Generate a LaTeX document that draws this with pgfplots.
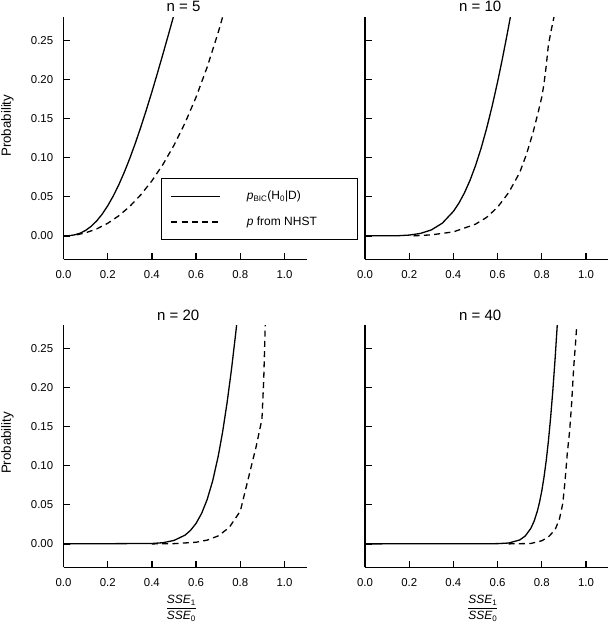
\documentclass[border=0pt]{standalone}
\usepackage{pgfplots}
\pgfplotsset{compat=1.18}
\usepackage{fontspec}
\setmainfont{Liberation Sans}

\pgfplotsset{
  myaxis/.style={
    scale only axis, width=243.1pt, height=242pt,
    xmin=0, xmax=1.1, ymin=-0.03, ymax=0.28,
    axis x line*=bottom, axis y line*=left,
    axis line style={line width=1.5pt, -},
    tick align=inside, major tick length=6.5pt,
    every tick/.style={black, line width=1.3pt},
    xtick={0,0.2,0.4,0.6,0.8,1.0},
    ytick={0,0.05,0.1,0.15,0.2,0.25},
    /pgf/number format/assume math mode=true,
    xticklabel style={/pgf/number format/.cd, fixed, fixed zerofill, precision=1, /tikz/.cd,
      inner sep=0pt, anchor=north, yshift=-11pt, font=\fontsize{11.4}{13}\selectfont},
    yticklabel style={/pgf/number format/.cd, fixed, fixed zerofill, precision=2, /tikz/.cd,
      inner sep=0pt, anchor=east, xshift=-10.2pt, font=\fontsize{11.4}{13}\selectfont},
    ylabel style={at={(axis description cs:-0.2304,0.552)}, anchor=center, font=\fontsize{13.3}{15}\selectfont},
    title style={anchor=base, font=\fontsize{15}{18}\selectfont},
    xlabel style={at={(axis description cs:0.485,0)}, anchor=center, yshift=-41pt, font=\fontsize{12}{14}\selectfont},
    clip=true,
  },
  sol/.style={black, line width=1.3pt, line join=round},
  das/.style={black, line width=1.3pt, line join=round, dash pattern=on 6pt off 4.3pt},
}

\newcommand{\ssefrac}{$\displaystyle\frac{\mbox{\textit{SSE}\textsubscript{1}}}{\mbox{\textit{SSE}\textsubscript{0}}}$}

\begin{document}
\begin{tikzpicture}
\useasboundingbox (0pt,0pt) rectangle (609pt,631pt);

% n = 5
\begin{axis}[myaxis, at={(63.5pt,371.7pt)}, anchor=south west,
  title={n = 5}, title style={at={(axis description cs:0.494,1)}, yshift=0.2pt},
  ylabel={Probability},
  legend style={at={(axis description cs:0.401,0.337)}, anchor=north west,
    draw=black, line width=1.2pt, fill=white,
    inner xsep=9pt, inner ysep=5pt, row sep=0pt,
    font=\fontsize{12}{14}\selectfont,
    nodes={inner xsep=0pt, inner ysep=0pt, minimum height=25.7pt},
    /tikz/every odd column/.append style={column sep=26pt}},
  legend cell align=left,
  legend image code/.code={\draw[#1] (0pt,0pt) -- (49pt,0pt);},
]
\addplot[sol] coordinates {(0,0) (0.025,0.0002) (0.05,0.0013) (0.075,0.0034) (0.1,0.0070) (0.125,0.0122) (0.15,0.0191) (0.175,0.0278) (0.2,0.0385) (0.225,0.0510) (0.25,0.0653) (0.275,0.0815) (0.3,0.0993) (0.325,0.1187) (0.35,0.1395) (0.375,0.1615) (0.4,0.1845) (0.425,0.2084) (0.45,0.2330) (0.475,0.2580) (0.5,0.2834)};
\addlegendentry{\makebox[102pt][l]{\textit{p}\textsubscript{BIC}(H\textsubscript{0}|D)}}
\addplot[das] coordinates {(0.06,0.0014) (0.1,0.0039) (0.15,0.0089) (0.2,0.0161) (0.25,0.0257) (0.3,0.0378) (0.35,0.0527) (0.4,0.0705) (0.45,0.0915) (0.5,0.1161) (0.55,0.1447) (0.6,0.1778) (0.65,0.2161) (0.7,0.2606) (0.72,0.2804)};
\addlegendentry{\makebox[102pt][l]{\textit{p} from NHST}}
\end{axis}

% n = 10
\begin{axis}[myaxis, at={(365pt,371.7pt)}, anchor=south west,
  title={n = 10}, title style={at={(axis description cs:0.474,1)}, yshift=0.2pt},
  yticklabels={},
]
\addplot[sol] coordinates {(0,0) (0.15,0.0002) (0.2,0.0010) (0.25,0.0031) (0.3,0.0076) (0.35,0.0163) (0.4,0.0314) (0.425,0.0420) (0.45,0.0551) (0.475,0.0710) (0.5,0.0899) (0.525,0.1120) (0.55,0.1373) (0.575,0.1658) (0.6,0.1974) (0.62,0.2246) (0.64,0.2535) (0.66,0.2837)};
\addplot[das] coordinates {(0.22,0) (0.3,0.0013) (0.4,0.0051) (0.5,0.0150) (0.55,0.0236) (0.6,0.0368) (0.65,0.0554) (0.7,0.0811) (0.73,0.104) (0.76,0.132) (0.785,0.160) (0.80,0.178) (0.81,0.195) (0.82,0.218) (0.83,0.245) (0.843,0.264) (0.857,0.283)};
\end{axis}

% n = 20
\begin{axis}[myaxis, at={(63.5pt,63.7pt)}, anchor=south west,
  title={n = 20}, title style={at={(axis description cs:0.472,1)}, yshift=-1.5pt},
  ylabel={Probability}, ylabel style={at={(axis description cs:-0.2304,0.514)}},
  xlabel={\ssefrac},
]
\addplot[sol] coordinates {(0,0) (0.4,0.0005) (0.45,0.0015) (0.5,0.0044) (0.55,0.0112) (0.575,0.0174) (0.6,0.0263) (0.625,0.0391) (0.65,0.0568) (0.675,0.0807) (0.7,0.1122) (0.72,0.1434) (0.74,0.1805) (0.76,0.2233) (0.78,0.2716) (0.785,0.2844)};
\addplot[das] coordinates {(0.40,0) (0.5,0.0003) (0.6,0.0021) (0.65,0.0048) (0.7,0.0102) (0.75,0.021) (0.8,0.042) (0.872,0.125) (0.898,0.160) (0.906,0.210) (0.913,0.283)};
\end{axis}

% n = 40
\begin{axis}[myaxis, at={(365pt,63.7pt)}, anchor=south west,
  title={n = 40}, title style={at={(axis description cs:0.474,1)}, yshift=-1.5pt},
  yticklabels={},
  xlabel={\ssefrac},
]
\addplot[sol] coordinates {(0,0) (0.6,0.0003) (0.65,0.0011) (0.7,0.0050) (0.725,0.0101) (0.75,0.0197) (0.765,0.0289) (0.78,0.0421) (0.79,0.0537) (0.8,0.0680) (0.81,0.0855) (0.82,0.1067) (0.83,0.1321) (0.84,0.1621) (0.85,0.1969) (0.86,0.2365) (0.87,0.2807)};
\addplot[das] coordinates {(0.65,0) (0.75,0.0005) (0.8,0.004) (0.83,0.009) (0.86,0.018) (0.88,0.032) (0.895,0.052) (0.905,0.08) (0.915,0.115) (0.926,0.145) (0.935,0.18) (0.944,0.225) (0.952,0.255) (0.959,0.283)};
\end{axis}
\end{tikzpicture}
\end{document}
